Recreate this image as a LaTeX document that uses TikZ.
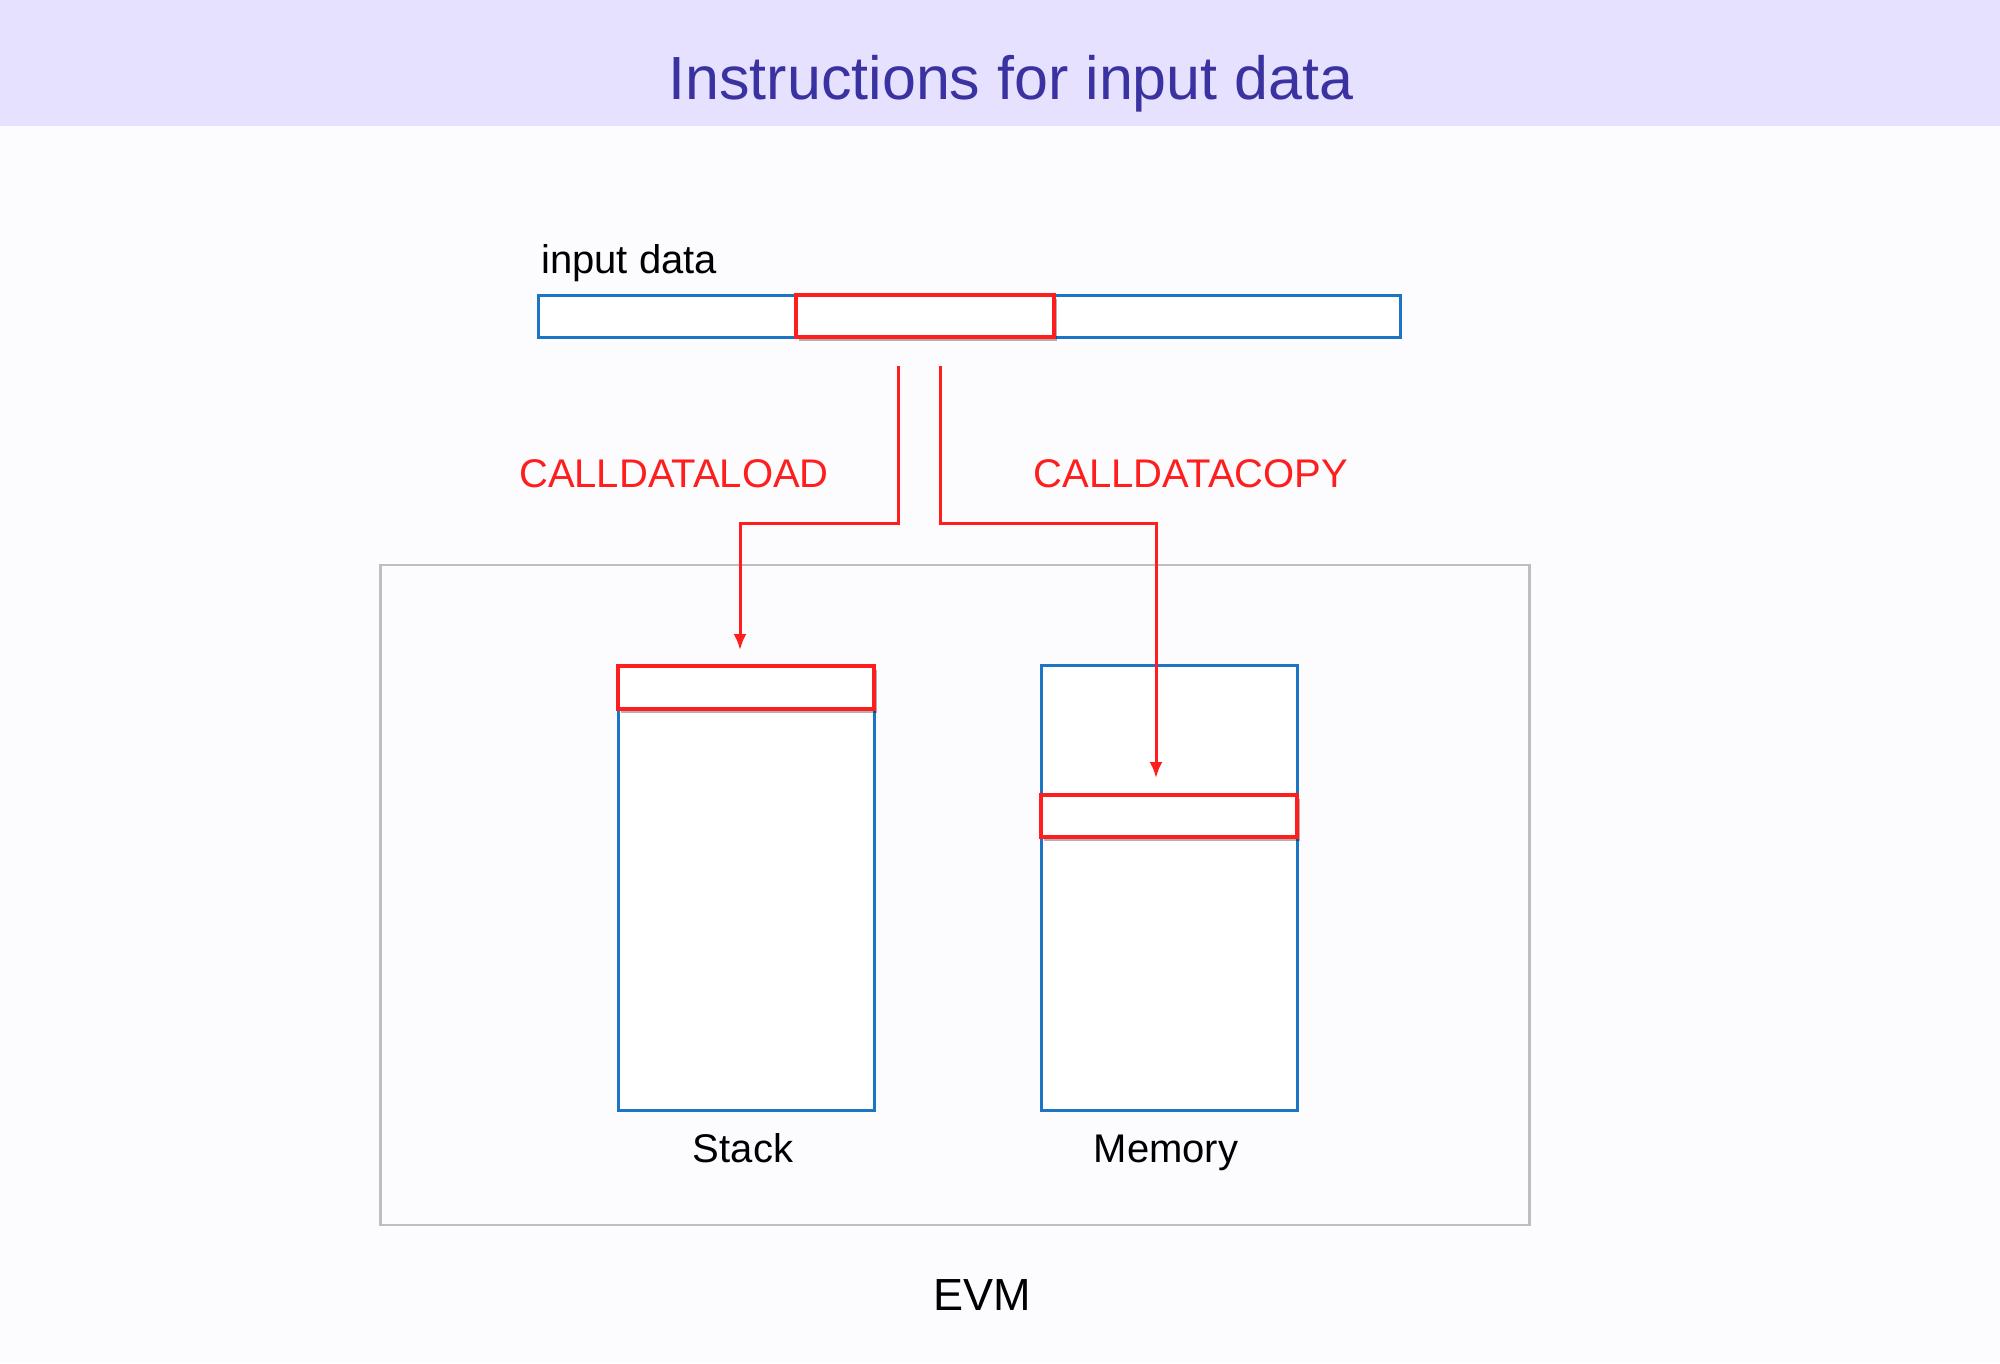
\documentclass[tikz,border=0pt]{standalone}
\usepackage{fontspec}
\setmainfont{Liberation Sans}
\usepackage{tikz}
\usetikzlibrary{arrows.meta,calc,positioning,shadows}

\definecolor{pagebg}{RGB}{252,252,255}
\definecolor{headbg}{RGB}{230,225,255}
\definecolor{headtxt}{RGB}{58,50,160}
\definecolor{memblue}{RGB}{28,117,196}
\definecolor{wordred}{RGB}{255,30,30}
\definecolor{evmgray}{RGB}{190,190,190}

\begin{document}
\begin{tikzpicture}[x=1pt,y=-1pt,>={Latex[length=16pt,width=13pt]}]
\tikzstyle{slot} = [draw=memblue, line width=3pt, fill=white, rectangle, inner sep=0pt]
\tikzstyle{word} = [draw=wordred, line width=3.5pt, fill=white, rectangle, inner sep=0pt, drop shadow={shadow xshift=3pt, shadow yshift=-4pt, opacity=0.3, fill=black}]
\tikzstyle{flow} = [draw=wordred, line width=3pt]
\tikzstyle{txt} = [inner sep=0pt, font=\fontsize{40}{48}\selectfont]

\useasboundingbox (0,0) rectangle (2000,1363);
\fill[pagebg] (0,0) rectangle (2000,1363);
\fill[headbg] (0,0) rectangle (2000,126);

\node [anchor=base, inner sep=0pt, text=headtxt, font=\fontsize{61}{70}\selectfont] (title) at (1011,99) {Instructions for input data};

% input data
\node [slot, minimum width=862pt, minimum height=42pt] (input) at (969,316) {};
\node [word, minimum width=258pt, minimum height=42pt] (inword) at (925,316) {};
\node [txt, anchor=base west] (inlabel) at (541,273) {input data};

% EVM
\node [draw=evmgray, line width=2.5pt, rectangle, inner sep=0pt, minimum width=1149pt, minimum height=660pt] (evm) at (955,895) {};
\node [txt, anchor=base, font=\fontsize{45}{54}\selectfont] (evmlabel) at (982,1310) {EVM};

\node [slot, minimum width=256pt, minimum height=445pt] (stack) at (746,888) {};
\node [word, minimum width=256pt, minimum height=43pt, anchor=north] (stackword) at (stack.north) {};
\node [txt, anchor=base] (stacklabel) at ($(stack.south)+(-3,50)$) {Stack};

\node [slot, minimum width=256pt, minimum height=445pt] (memory) at (1169,888) {};
\node [word, minimum width=256pt, minimum height=42pt] (memword) at (1169,816) {};
\node [txt, anchor=base] (memlabel) at ($(memory.south)+(-3,50)$) {Memory};

% instructions
\node [coordinate] (ldtop) at (898,366) {};
\node [coordinate] (ldknee) at (898,523) {};
\node [coordinate] (ldend) at (740,650) {};
\node [coordinate, right = 42pt of ldtop] (cctop) {};
\node [coordinate, right = 42pt of ldknee] (ccknee) {};
\node [coordinate] (ccend) at (1156,778) {};

\node [txt, anchor=base, text=wordred] (ldlabel) at (674,487) {CALLDATALOAD};
\node [txt, anchor=base, text=wordred] (cclabel) at (1191,487) {CALLDATACOPY};

\draw [flow,->] (ldtop) -- (ldknee) -| (ldend);
\draw [flow,->] (cctop) -- (ccknee) -| (ccend);
\end{tikzpicture}
\end{document}
